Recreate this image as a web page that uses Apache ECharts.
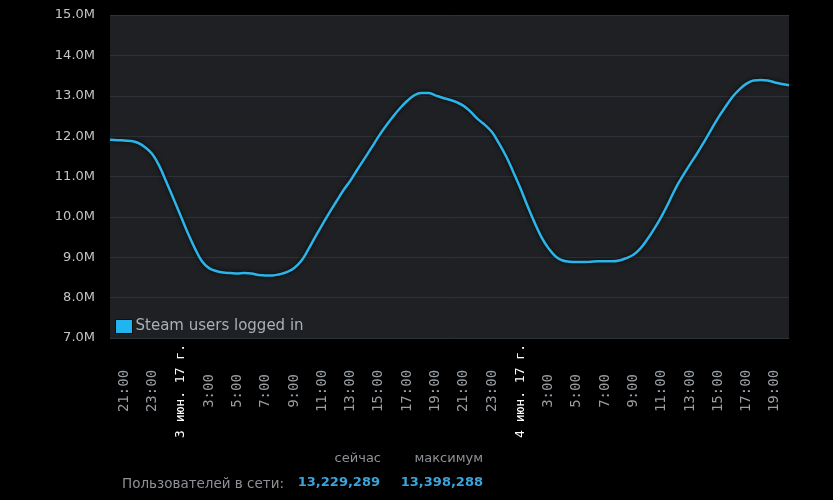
<!DOCTYPE html>
<html>
<head>
<meta charset="utf-8">
<script src="https://cdn.jsdelivr.net/npm/echarts@6/dist/echarts.min.js"></script>
<style>
html,body{margin:0;padding:0;background:#000;}
#chart{width:833px;height:500px;}
</style>
</head>
<body>
<div id="chart"></div>
<script>
// half-hourly timestamps, 2 Jun 20:00 .. 4 Jun 20:00
var categories = [
 "06-02 20:00","06-02 20:30","06-02 21:00","06-02 21:30","06-02 22:00","06-02 22:30","06-02 23:00","06-02 23:30",
 "06-03 0:00","06-03 0:30","06-03 1:00","06-03 1:30","06-03 2:00","06-03 2:30","06-03 3:00","06-03 3:30",
 "06-03 4:00","06-03 4:30","06-03 5:00","06-03 5:30","06-03 6:00","06-03 6:30","06-03 7:00","06-03 7:30",
 "06-03 8:00","06-03 8:30","06-03 9:00","06-03 9:30","06-03 10:00","06-03 10:30","06-03 11:00","06-03 11:30",
 "06-03 12:00","06-03 12:30","06-03 13:00","06-03 13:30","06-03 14:00","06-03 14:30","06-03 15:00","06-03 15:30",
 "06-03 16:00","06-03 16:30","06-03 17:00","06-03 17:30","06-03 18:00","06-03 18:30","06-03 19:00","06-03 19:30",
 "06-03 20:00","06-03 20:30","06-03 21:00","06-03 21:30","06-03 22:00","06-03 22:30","06-03 23:00","06-03 23:30",
 "06-04 0:00","06-04 0:30","06-04 1:00","06-04 1:30","06-04 2:00","06-04 2:30","06-04 3:00","06-04 3:30",
 "06-04 4:00","06-04 4:30","06-04 5:00","06-04 5:30","06-04 6:00","06-04 6:30","06-04 7:00","06-04 7:30",
 "06-04 8:00","06-04 8:30","06-04 9:00","06-04 9:30","06-04 10:00","06-04 10:30","06-04 11:00","06-04 11:30",
 "06-04 12:00","06-04 12:30","06-04 13:00","06-04 13:30","06-04 14:00","06-04 14:30","06-04 15:00","06-04 15:30",
 "06-04 16:00","06-04 16:30","06-04 17:00","06-04 17:30","06-04 18:00","06-04 18:30","06-04 19:00","06-04 19:30",
 "06-04 20:00"
];
// Steam users logged in, millions
var users = [
 11.91,11.90,11.89,11.88,11.83,11.72,11.55,11.25,
 10.85,10.44,10.02,9.60,9.22,8.90,8.73,8.66,
 8.62,8.61,8.60,8.61,8.60,8.56,8.55,8.55,
 8.58,8.63,8.73,8.90,9.18,9.50,9.80,10.10,
 10.38,10.66,10.90,11.18,11.45,11.72,12.00,12.25,
 12.48,12.69,12.87,13.01,13.07,13.07,13.01,12.95,
 12.90,12.84,12.75,12.60,12.42,12.28,12.10,11.82,
 11.50,11.12,10.72,10.28,9.87,9.50,9.22,9.02,
 8.92,8.89,8.88,8.88,8.89,8.90,8.90,8.90,
 8.92,8.98,9.06,9.22,9.45,9.72,10.02,10.36,
 10.72,11.02,11.30,11.57,11.86,12.16,12.46,12.72,
 12.97,13.16,13.30,13.38,13.39,13.38,13.33,13.29,
 13.26
];
var dayLabels = {"06-03": "3 июн. 17 г.", "06-04": "4 июн. 17 г."};
var yTicks = {min: 7, max: 15, step: 1};
var seriesName = "Steam users logged in";
var summaryHeaders = ["сейчас", "максимум"];
var summaryLabel = "Пользователей в сети:";
var summaryValues = ["13,229,289", "13,398,288"];

function parts(v){ var s = v.split(" "); return {day: s[0], time: s[1]}; }

var chart = echarts.init(document.getElementById('chart'));
chart.setOption({
  backgroundColor: '#000',
  animation: false,
  grid: {left: 110, top: 15, right: 44, bottom: 162, show: true, backgroundColor: '#1e2023', borderWidth: 0},
  legend: {
    show: true, left: 115, top: 319, padding: 0, icon: 'rect', itemWidth: 17, itemHeight: 14, itemGap: 0,
    itemStyle: {borderColor: '#0a0c0e', borderWidth: 1},
    textStyle: {color: '#a9b0b8', fontFamily: 'DejaVu Sans', fontSize: 15, padding: [0,0,0,-2]},
    data: [seriesName]
  },
  xAxis: {
    type: 'category', data: categories, boundaryGap: false,
    axisLine: {show: false}, axisTick: {show: false}, splitLine: {show: false},
    axisLabel: {
      rotate: 90, align: 'center', verticalAlign: 'middle', margin: 53,
      interval: function(i, v){ var p = parts(v); var hm = p.time.split(":"); return hm[1] === "00" && (+hm[0]) % 2 === 1; },
      formatter: function(v){ var p = parts(v); if (p.time === "1:00" && dayLabels[p.day]) return '{d|' + dayLabels[p.day] + '}'; return '{t|' + p.time + '}'; },
      rich: {
        t: {color: '#9a9fa4', fontFamily: 'DejaVu Sans Mono', fontSize: 14},
        d: {color: '#ffffff', fontFamily: 'DejaVu Sans Mono', fontSize: 13}
      }
    }
  },
  yAxis: {
    type: 'value', min: yTicks.min, max: yTicks.max, interval: yTicks.step,
    axisLine: {show: false}, axisTick: {show: false},
    splitLine: {lineStyle: {color: '#2d3238', width: 1}},
    axisLabel: {color: '#c2c4c6', fontFamily: 'DejaVu Sans', fontSize: 13, margin: 15,
      formatter: function(v){ return v.toFixed(1) + 'M'; }}
  },
  series: [{
    name: seriesName, type: 'line', data: users, smooth: 0.4, showSymbol: false,
    color: '#22b4ee',
    lineStyle: {color: '#2bb5ea', width: 2.5, shadowColor: 'rgba(0,0,0,0.9)', shadowBlur: 4}
  }],
  graphic: [
    {type: 'text', right: 833 - 381, top: 452, style: {text: summaryHeaders[0], fill: '#8e9297', font: '13px "DejaVu Sans"', textAlign: 'right'}},
    {type: 'text', right: 833 - 483, top: 452, style: {text: summaryHeaders[1], fill: '#8e9297', font: '13px "DejaVu Sans"', textAlign: 'right'}},
    {type: 'text', right: 833 - 284, top: 477, style: {text: summaryLabel, fill: '#8e9297', font: '13.5px "DejaVu Sans"', textAlign: 'right'}},
    {type: 'text', right: 833 - 380, top: 476, style: {text: summaryValues[0], fill: '#3aa4dc', font: 'bold 13px "DejaVu Sans"', textAlign: 'right'}},
    {type: 'text', right: 833 - 483, top: 476, style: {text: summaryValues[1], fill: '#3aa4dc', font: 'bold 13px "DejaVu Sans"', textAlign: 'right'}}
  ]
});
</script>
</body>
</html>
